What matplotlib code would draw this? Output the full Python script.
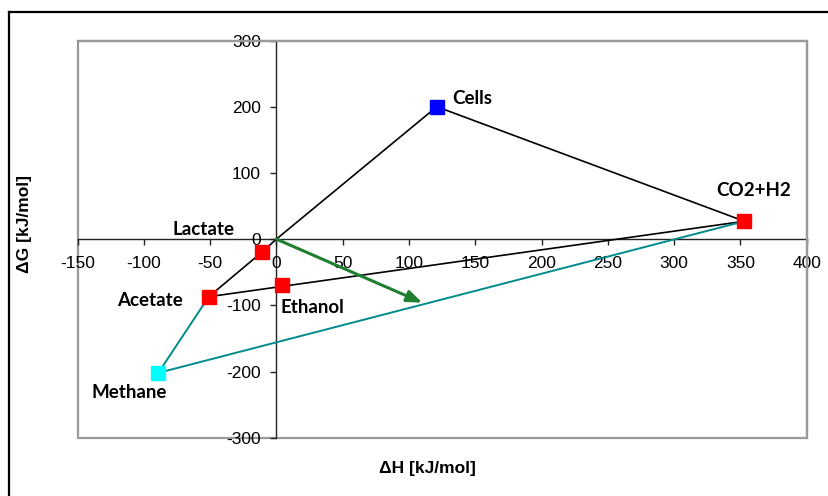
import matplotlib
matplotlib.use("Agg")
import matplotlib.pyplot as plt
from matplotlib.lines import Line2D
from matplotlib.patches import Rectangle

plt.rcParams["font.family"] = ["Liberation Sans", "DejaVu Sans"]
plt.rcParams["axes.unicode_minus"] = False

# ---- data ----
species = ["Cells", "CO2+H2", "Lactate", "Acetate", "Ethanol", "Methane"]
dH = [121, 353, -10.5, -51, 4.5, -89]      # kJ/mol
dG = [200, 27, -19, -87, -70, -202]        # kJ/mol
marker_colors = ["#0000FF", "#FF0000", "#FF0000", "#FF0000", "#FF0000", "#00FFFF"]

# connecting paths (origin = substrate at 0,0)
black_paths = [["Origin", "Cells", "CO2+H2"],
               ["Acetate", "Lactate", "Origin"],
               ["Acetate", "CO2+H2"]]
teal_paths = [["Acetate", "Methane", "CO2+H2"]]
arrow_start = (0, 0)
arrow_end = (110, -96)

# label anchor positions (data coords)
label_pos = {"Cells": (133, 212, "left"), "CO2+H2": (360, 74, "center"),
             "Lactate": (-55, 15, "center"), "Acetate": (-95, -93, "center"),
             "Ethanol": (3, -104, "left"), "Methane": (-111, -232, "center")}

xticks = [-150, -100, -50, 0, 50, 100, 150, 200, 250, 300, 350, 400]
yticks = [-300, -200, -100, 0, 100, 200, 300]

pts = {n: (x, y) for n, x, y in zip(species, dH, dG)}
pts["Origin"] = (0, 0)

fig = plt.figure(figsize=(8.29, 4.96), dpi=100)
ax = fig.add_axes([0.0935, 0.1175, 0.8796, 0.8008])
ax.set_xlim(-150, 400)
ax.set_ylim(-300, 300)

# gray plot-area frame
for s in ["top", "right"]:
    ax.spines[s].set_color("#9a9a9a")
    ax.spines[s].set_linewidth(1.6)
ax.add_patch(Rectangle((0, 0), 1, 1, transform=ax.transAxes, fill=False,
                       edgecolor="#9a9a9a", lw=1.6, zorder=0.5, clip_on=False))
ax.spines["left"].set_position(("data", 0))
ax.spines["bottom"].set_position(("data", 0))
for s in ["left", "bottom"]:
    ax.spines[s].set_color("#222222")
    ax.spines[s].set_linewidth(1.0)
    ax.spines[s].set_zorder(1)

ax.set_xticks(xticks)
ax.set_yticks(yticks)
ax.tick_params(axis="both", direction="out", length=4, width=1, color="#222222",
               labelsize=12.5)
ax.tick_params(axis="x", pad=8)
ax.tick_params(axis="y", pad=7)

for path in black_paths:
    ax.plot([pts[n][0] for n in path], [pts[n][1] for n in path],
            color="black", lw=1.2, zorder=2, clip_on=False)
for path in teal_paths:
    ax.plot([pts[n][0] for n in path], [pts[n][1] for n in path],
            color="#008B8B", lw=1.4, zorder=2, clip_on=False)

ax.annotate("", xy=arrow_end, xytext=arrow_start,
            arrowprops=dict(arrowstyle="-|>,head_length=0.9,head_width=0.35",
                            color="#1F7F30", lw=2.2, shrinkA=0, shrinkB=0),
            zorder=3)

for n, x, y, c in zip(species, dH, dG, marker_colors):
    ax.plot(x, y, marker="s", ms=9.5, color=c, markeredgecolor=c, ls="none",
            zorder=4, clip_on=False)
    lx, ly, ha = label_pos[n]
    ax.text(lx, ly, n, ha=ha, va="center", fontsize=13.5, fontweight="bold",
            family="Lato", color="black", zorder=5)

fig.text(0.516, 0.056, "ΔH [kJ/mol]", ha="center", va="center", fontsize=12.5,
         fontweight="bold")
fig.text(0.030, 0.548, "ΔG [kJ/mol]", ha="center", va="center", fontsize=12.5,
         fontweight="bold", rotation=90)

# outer chart frame (only top and left visible)
fig.add_artist(Line2D([9 / 829, 9 / 829], [0, 1 - 12 / 496], transform=fig.transFigure,
                      color="black", lw=1.6))
fig.add_artist(Line2D([9 / 829, 1], [1 - 12 / 496, 1 - 12 / 496], transform=fig.transFigure,
                      color="black", lw=1.6))

fig.savefig("out.png", dpi=100)
